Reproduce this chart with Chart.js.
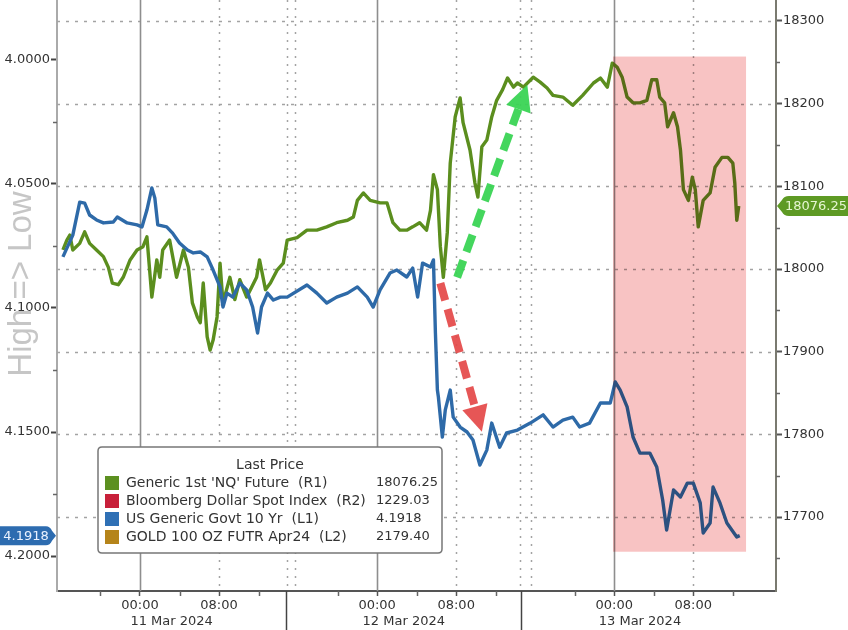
<!DOCTYPE html>
<html><head><meta charset="utf-8">
<script src="https://cdn.jsdelivr.net/npm/chart.js@4.4.1/dist/chart.umd.min.js"></script>
<style>html,body{margin:0;padding:0;background:#fff;}canvas{display:block;}</style>
</head><body>
<canvas id="c" width="848" height="630"></canvas>
<script>
// ---- data (hours from 11 Mar 2024 00:00) ----
const nqHours = [-7.8,-7.4,-7.1,-6.8,-6.1,-5.6,-5.1,-4.4,-3.7,-3.2,
 -2.8,-2.2,-1.7,-1.0,-0.3,0.3,0.7,1.2,1.7,2.0,
 2.3,3.0,3.7,4.4,4.9,5.3,5.8,6.1,6.4,6.8,
 7.1,7.4,7.8,8.1,8.4,9.1,9.6,10.1,10.8,11.3,
 11.8,12.1,12.7,13.2,13.9,14.5,14.9,15.9,16.9,17.9,
 18.9,19.9,21.0,21.6,22.0,22.6,23.3,24.3,25.0,25.6,
 26.3,27.0,27.6,28.3,29.0,29.4,29.7,30.1,30.4,30.7,
 31.1,31.4,31.9,32.4,32.7,33.4,33.9,34.2,34.6,35.1,
 35.6,36.1,36.7,37.2,37.8,38.2,38.8,39.8,40.5,41.2,
 41.8,42.8,43.8,44.8,45.9,46.6,47.3,47.8,48.3,48.8,
 49.3,49.9,50.6,51.3,51.8,52.3,52.6,53.1,53.4,54.0,
 54.4,54.7,55.0,55.5,55.9,56.2,56.5,57.0,57.7,58.2,
 58.9,59.5,60.0,60.2,60.4,60.6];
const nqValues = [18023,18035,18041,18023,18031,18045,18031,18023,18015,18002,
 17983,17981,17990,18011,18023,18027,18039,17966,18011,17990,
 18023,18035,17990,18023,18002,17959,17942,17935,17983,17918,
 17902,17914,17942,18007,17959,17990,17963,17987,17966,17978,
 17990,18011,17975,17983,17999,18007,18035,18038,18047,18047,
 18051,18056,18059,18063,18083,18092,18083,18080,18080,18056,
 18047,18047,18051,18056,18047,18071,18114,18096,18027,17990,
 18044,18128,18184,18207,18177,18144,18104,18087,18148,18156,
 18184,18204,18217,18231,18220,18225,18220,18232,18226,18219,
 18210,18208,18198,18210,18225,18231,18220,18249,18244,18232,
 18208,18201,18201,18204,18229,18229,18208,18201,18172,18189,
 18172,18144,18096,18083,18111,18096,18051,18083,18092,18123,
 18135,18135,18128,18104,18059,18076.25];
const ustHours = [-7.8,-6.8,-6.1,-5.6,-5.1,-4.4,-3.7,-2.7,-2.3,-1.3,
 -0.3,0.2,0.7,1.2,1.5,1.8,2.7,3.3,4.0,4.8,
 5.4,6.1,6.8,7.4,8.1,8.4,8.8,9.4,10.1,10.8,
 11.4,11.9,12.3,12.9,13.5,14.2,14.9,16.9,17.9,18.9,
 19.9,21.0,22.0,23.0,23.6,24.3,25.3,26.0,27.0,27.6,
 28.1,28.6,29.4,29.7,29.9,30.1,30.2,30.6,30.9,31.4,
 31.7,32.4,33.1,33.7,34.4,35.1,35.6,36.4,37.1,38.2,
 39.5,40.8,41.8,42.8,43.8,44.5,45.5,46.6,47.6,48.1,
 48.6,49.3,49.9,50.6,51.6,52.3,52.9,53.3,54.0,54.7,
 55.4,56.0,56.7,57.0,57.7,58.0,58.7,59.4,60.4,60.7];
const ustValues = [4.0794,4.0706,4.0573,4.0577,4.0625,4.0645,4.0657,4.0653,4.0633,4.0657,
 4.0665,4.0673,4.0605,4.0516,4.0556,4.0665,4.0673,4.0698,4.0738,4.0766,
 4.0778,4.0774,4.0794,4.0847,4.0915,4.0996,4.0940,4.0956,4.0899,4.0927,
 4.0996,4.1101,4.0996,4.0940,4.0968,4.0956,4.0956,4.0907,4.0940,4.0980,
 4.0956,4.0940,4.0915,4.0956,4.0996,4.0927,4.0859,4.0847,4.0875,4.0839,
 4.0956,4.0819,4.0835,4.0806,4.1101,4.1331,4.1359,4.1520,4.1411,4.1331,
 4.1440,4.1480,4.1500,4.1532,4.1633,4.1573,4.1464,4.1561,4.1504,4.1492,
 4.1464,4.1431,4.1480,4.1452,4.1440,4.1480,4.1464,4.1383,4.1383,4.1298,
 4.1331,4.1399,4.1520,4.1585,4.1585,4.1641,4.1774,4.1895,4.1734,4.1762,
 4.1706,4.1706,4.1786,4.1907,4.1867,4.1722,4.1786,4.1867,4.1923,4.1918];

const leftTicks = [4.0, 4.05, 4.1, 4.15, 4.2];
const leftMinor = [4.025, 4.075, 4.125, 4.175];
const rightTicks = [17700, 17800, 17900, 18000, 18100, 18200, 18300];
const rightMinor = [17650, 17750, 17850, 17950, 18050, 18150, 18250];
const hourTicks = [0, 8, 24, 32, 48, 56];
const hourLabels = ['00:00', '08:00', '00:00', '08:00', '00:00', '08:00'];
const hourMinor = [-4, 4, 12, 20, 28, 36, 44, 52, 60];
const midnightHours = [0, 24, 48];
const morningHours = [8, 32, 56];
const sessionGaps = [14.9, 15.7, 38.5, 39.6];
const dayBreaks = [14.8, 38.6];
const dayLabels = ['11 Mar 2024', '12 Mar 2024', '13 Mar 2024'];
const dayCenters = [3.2, 26.7, 50.6];

const legendTitle = 'Last Price';
const legendNames = ["Generic 1st 'NQ' Future  (R1)", 'Bloomberg Dollar Spot Index  (R2)', 'US Generic Govt 10 Yr  (L1)', 'GOLD 100 OZ FUTR Apr24  (L2)'];
const legendValues = ['18076.25', '1229.03', '4.1918', '2179.40'];
const legendColors = ['#5c9020', '#c8203a', '#2f70b5', '#b5841a'];

const highlightHours = [47.87, 61.34];
const highlightNQ = [18257, 17658];
const upArrow = [[32.1, 17990], [39.2, 18223]];
const downArrow = [[30.4, 17983], [34.6, 17803]];
const sideText = 'High => Low';

const NQ_COLOR = '#5b8e1e';
const UST_COLOR = '#2e6aa8';
const FONT = "'DejaVu Sans', sans-serif";

function drawArrow(ctx, x1, y1, x2, y2, color) {
  const ang = Math.atan2(y2 - y1, x2 - x1);
  const headLen = 26, headW = 13;
  const bx = x2 - headLen * Math.cos(ang), by = y2 - headLen * Math.sin(ang);
  ctx.save();
  ctx.strokeStyle = color; ctx.lineWidth = 8; ctx.setLineDash([18, 9]); ctx.lineCap = 'butt';
  ctx.beginPath(); ctx.moveTo(x1, y1); ctx.lineTo(bx, by); ctx.stroke();
  ctx.setLineDash([]); ctx.fillStyle = color;
  ctx.beginPath(); ctx.moveTo(x2, y2);
  ctx.lineTo(bx + headW * Math.sin(ang), by - headW * Math.cos(ang));
  ctx.lineTo(bx - headW * Math.sin(ang), by + headW * Math.cos(ang));
  ctx.closePath(); ctx.fill();
  ctx.restore();
}
function roundRect(ctx, x, y, w, h, r) {
  ctx.beginPath();
  ctx.moveTo(x + r, y); ctx.lineTo(x + w - r, y); ctx.quadraticCurveTo(x + w, y, x + w, y + r);
  ctx.lineTo(x + w, y + h - r); ctx.quadraticCurveTo(x + w, y + h, x + w - r, y + h);
  ctx.lineTo(x + r, y + h); ctx.quadraticCurveTo(x, y + h, x, y + h - r);
  ctx.lineTo(x, y + r); ctx.quadraticCurveTo(x, y, x + r, y); ctx.closePath();
}

const decor = {
  id: 'decor',
  beforeDatasetsDraw(chart) {
    const { ctx, chartArea: a, scales: { x, yR } } = chart;
    ctx.save();
    ctx.strokeStyle = '#a3a3a3'; ctx.lineWidth = 1.5; ctx.setLineDash([3, 6]);
    rightTicks.forEach(v => {
      const y = Math.round(yR.getPixelForValue(v)) + 0.5;
      ctx.beginPath(); ctx.moveTo(a.left, y); ctx.lineTo(a.right, y); ctx.stroke();
    });
    ctx.setLineDash([2, 6]);
    morningHours.concat(sessionGaps).forEach(h => {
      const px = Math.round(x.getPixelForValue(h)) + 0.5;
      ctx.beginPath(); ctx.moveTo(px, a.top); ctx.lineTo(px, a.bottom); ctx.stroke();
    });
    ctx.setLineDash([]); ctx.strokeStyle = '#8e8e8e'; ctx.lineWidth = 1.6;
    midnightHours.forEach(h => {
      const px = Math.round(x.getPixelForValue(h)) + 0.5;
      ctx.beginPath(); ctx.moveTo(px, a.top); ctx.lineTo(px, a.bottom); ctx.stroke();
    });
    ctx.restore();
  },
  afterDatasetsDraw(chart) {
    const { ctx, scales: { x, yR } } = chart;
    ctx.save();
    ctx.globalCompositeOperation = 'multiply';
    ctx.fillStyle = '#f8c3c3';
    const x0 = x.getPixelForValue(highlightHours[0]), x1 = x.getPixelForValue(highlightHours[1]);
    const y0 = yR.getPixelForValue(highlightNQ[0]), y1 = yR.getPixelForValue(highlightNQ[1]);
    ctx.fillRect(x0, y0, x1 - x0, y1 - y0);
    ctx.restore();
    drawArrow(ctx, x.getPixelForValue(upArrow[0][0]), yR.getPixelForValue(upArrow[0][1]),
      x.getPixelForValue(upArrow[1][0]), yR.getPixelForValue(upArrow[1][1]), 'rgba(58,212,84,0.95)');
    drawArrow(ctx, x.getPixelForValue(downArrow[0][0]), yR.getPixelForValue(downArrow[0][1]),
      x.getPixelForValue(downArrow[1][0]), yR.getPixelForValue(downArrow[1][1]), 'rgba(228,72,72,0.92)');
  },
  afterDraw(chart) {
    const { ctx, chartArea: a, scales: { x, yL, yR } } = chart;
    ctx.save();
    // minor ticks
    ctx.strokeStyle = '#666'; ctx.lineWidth = 1.5;
    hourMinor.forEach(h => {
      const px = Math.round(x.getPixelForValue(h)) + 0.5;
      ctx.beginPath(); ctx.moveTo(px, a.bottom); ctx.lineTo(px, a.bottom + 5); ctx.stroke();
    });
    leftMinor.forEach(v => {
      const py = Math.round(yL.getPixelForValue(v)) + 0.5;
      ctx.beginPath(); ctx.moveTo(a.left - 4, py); ctx.lineTo(a.left, py); ctx.stroke();
    });
    rightMinor.forEach(v => {
      const py = Math.round(yR.getPixelForValue(v)) + 0.5;
      ctx.beginPath(); ctx.moveTo(a.right, py); ctx.lineTo(a.right + 4, py); ctx.stroke();
    });
    // day separators in axis
    ctx.strokeStyle = '#444'; ctx.lineWidth = 1.5;
    dayBreaks.forEach(h => {
      const px = Math.round(x.getPixelForValue(h)) + 0.5;
      ctx.beginPath(); ctx.moveTo(px, a.bottom); ctx.lineTo(px, chart.height); ctx.stroke();
    });
    // day labels
    ctx.fillStyle = '#333'; ctx.font = '13px ' + FONT; ctx.textAlign = 'center'; ctx.textBaseline = 'middle';
    dayLabels.forEach((t, i) => ctx.fillText(t, x.getPixelForValue(dayCenters[i]), 622));
    // side text
    ctx.save();
    ctx.translate(22, 284); ctx.rotate(-Math.PI / 2);
    ctx.fillStyle = '#c6c6c6'; ctx.font = "33px 'Liberation Sans', sans-serif";
    ctx.textAlign = 'center'; ctx.textBaseline = 'middle';
    ctx.fillText(sideText, 0, 0);
    ctx.restore();
    // legend
    const lx = 98, ly = 447, lw = 344, lh = 106;
    roundRect(ctx, lx, ly, lw, lh, 4);
    ctx.fillStyle = '#fff'; ctx.fill();
    ctx.strokeStyle = '#777'; ctx.lineWidth = 1.5; ctx.stroke();
    ctx.fillStyle = '#333'; ctx.font = '14px ' + FONT; ctx.textAlign = 'center';
    ctx.fillText(legendTitle, lx + 172, ly + 18);
    ctx.textAlign = 'left';
    legendNames.forEach((n, i) => {
      const ry = ly + 36 + i * 18;
      ctx.fillStyle = legendColors[i]; ctx.fillRect(lx + 7, ry - 7, 14, 14);
      ctx.fillStyle = '#333';
      ctx.font = '14px ' + FONT;
      ctx.fillText(n, lx + 28, ry);
      ctx.font = '13px ' + FONT;
      ctx.fillText(legendValues[i], lx + 278, ry);
    });
    // last value labels
    const lastU = ustValues[ustValues.length - 1];
    const yb = yL.getPixelForValue(lastU);
    ctx.fillStyle = '#2d6cb0';
    ctx.beginPath();
    ctx.moveTo(0, yb - 9.5); ctx.lineTo(46, yb - 9.5); ctx.quadraticCurveTo(50, yb - 9.5, 52, yb - 5);
    ctx.lineTo(56, yb); ctx.lineTo(52, yb + 5); ctx.quadraticCurveTo(50, yb + 9.5, 46, yb + 9.5);
    ctx.lineTo(0, yb + 9.5); ctx.closePath(); ctx.fill();
    ctx.fillStyle = '#eaf2ff'; ctx.font = '13px ' + FONT; ctx.textAlign = 'center';
    ctx.fillText(lastU.toFixed(4), 26, yb + 0.5);
    const lastN = nqValues[nqValues.length - 1];
    const yg = yR.getPixelForValue(lastN);
    ctx.fillStyle = '#5e9a24';
    ctx.beginPath();
    ctx.moveTo(777, yg); ctx.lineTo(782, yg - 6); ctx.quadraticCurveTo(784, yg - 10, 789, yg - 10);
    ctx.lineTo(848, yg - 10); ctx.lineTo(848, yg + 10); ctx.lineTo(789, yg + 10);
    ctx.quadraticCurveTo(784, yg + 10, 782, yg + 6); ctx.closePath(); ctx.fill();
    ctx.fillStyle = '#e6f6d2'; ctx.textAlign = 'left';
    ctx.fillText(lastN.toFixed(2), 785, yg + 0.5);
    ctx.restore();
  }
};

Chart.defaults.font.family = FONT;
Chart.defaults.font.size = 13;
Chart.defaults.color = '#333';

new Chart(document.getElementById('c'), {
  type: 'line',
  data: {
    datasets: [
      { label: 'US Generic Govt 10 Yr (L1)', yAxisID: 'yL',
        data: ustHours.map((h, i) => ({ x: h, y: ustValues[i] })),
        borderColor: UST_COLOR, borderWidth: 3.4, pointRadius: 0, tension: 0, borderJoinStyle: 'round' },
      { label: "Generic 1st 'NQ' Future (R1)", yAxisID: 'yR',
        data: nqHours.map((h, i) => ({ x: h, y: nqValues[i] })),
        borderColor: NQ_COLOR, borderWidth: 3.4, pointRadius: 0, tension: 0, borderJoinStyle: 'round' }
    ]
  },
  options: {
    responsive: false, animation: false, devicePixelRatio: 1,
    layout: { padding: 0 },
    plugins: { legend: { display: false }, tooltip: { enabled: false } },
    scales: {
      x: { type: 'linear', position: 'bottom', min: -8.4, max: 64.37,
        afterBuildTicks: s => { s.ticks = hourTicks.map(v => ({ value: v })); },
        afterFit: s => { s.height = 39; s.paddingLeft = 0; s.paddingRight = 0; },
        ticks: { autoSkip: false, maxRotation: 0, padding: 2, color: '#333',
          callback: v => hourLabels[hourTicks.indexOf(v)] },
        grid: { drawOnChartArea: false, drawTicks: true, tickLength: 5, tickColor: '#555', tickWidth: 1.5 },
        border: { display: true, color: '#555', width: 2 } },
      yL: { type: 'linear', position: 'left', reverse: true, min: 3.97581, max: 4.21411,
        afterBuildTicks: s => { s.ticks = leftTicks.map(v => ({ value: v })); },
        afterFit: s => { s.width = 57; s.paddingTop = 0; s.paddingBottom = 0; },
        ticks: { padding: 1, color: '#333', callback: v => Number(v).toFixed(4) },
        grid: { drawOnChartArea: false, drawTicks: true, tickLength: 6, tickColor: '#444', tickWidth: 2 },
        border: { display: true, color: '#aaa', width: 2 } },
      yR: { type: 'linear', position: 'right', min: 17610.5, max: 18325.4,
        afterBuildTicks: s => { s.ticks = rightTicks.map(v => ({ value: v })); },
        afterFit: s => { s.width = 72; s.paddingTop = 0; s.paddingBottom = 0; },
        ticks: { padding: 1, color: '#333', callback: v => String(v) },
        grid: { drawOnChartArea: false, drawTicks: true, tickLength: 6, tickColor: '#555', tickWidth: 2 },
        border: { display: true, color: '#7a7a70', width: 2 } }
    }
  },
  plugins: [decor]
});
</script>
</body></html>
